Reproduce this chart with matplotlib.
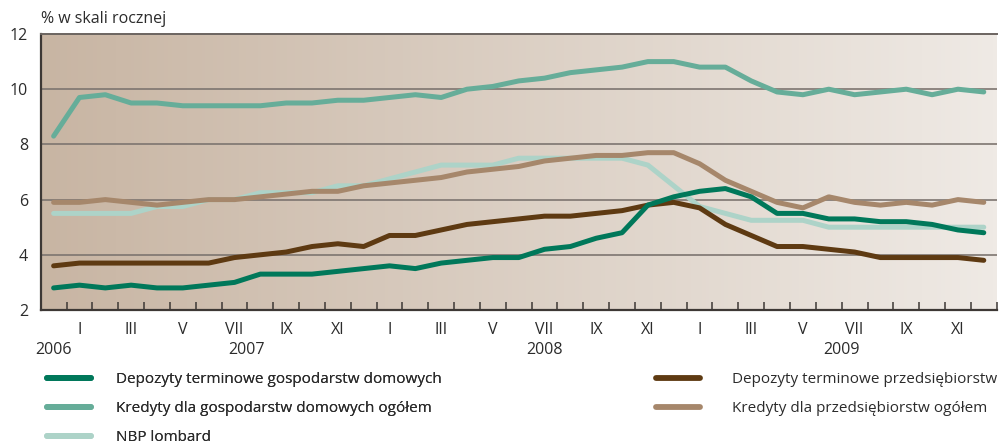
import numpy as np
import matplotlib
matplotlib.use("Agg")
import matplotlib.pyplot as plt
from matplotlib.colors import LinearSegmentedColormap
from matplotlib.lines import Line2D

# miesiace: XII 2006 - XII 2009
months = list(range(37))
month_labels = ["", "I", "", "III", "", "V", "", "VII", "", "IX", "", "XI"] * 3 + [""]
year_labels = ["2006", "2007", "2008", "2009"]
year_pos = [0, 7.45, 19.0, 30.5]

dep_hh = [2.8, 2.9, 2.8, 2.9, 2.8, 2.8, 2.9, 3.0, 3.3, 3.3, 3.3, 3.4, 3.5,
          3.6, 3.5, 3.7, 3.8, 3.9, 3.9, 4.2, 4.3, 4.6, 4.8, 5.8, 6.1,
          6.3, 6.4, 6.1, 5.5, 5.5, 5.3, 5.3, 5.2, 5.2, 5.1, 4.9, 4.8]
kred_hh = [8.3, 9.7, 9.8, 9.5, 9.5, 9.4, 9.4, 9.4, 9.4, 9.5, 9.5, 9.6, 9.6,
           9.7, 9.8, 9.7, 10.0, 10.1, 10.3, 10.4, 10.6, 10.7, 10.8, 11.0, 11.0,
           10.8, 10.8, 10.3, 9.9, 9.8, 10.0, 9.8, 9.9, 10.0, 9.8, 10.0, 9.9]
lombard = [5.5, 5.5, 5.5, 5.5, 5.75, 5.75, 6.0, 6.0, 6.25, 6.25, 6.25, 6.5, 6.5,
           6.75, 7.0, 7.25, 7.25, 7.25, 7.5, 7.5, 7.5, 7.5, 7.5, 7.25, 6.5,
           5.75, 5.5, 5.25, 5.25, 5.25, 5.0, 5.0, 5.0, 5.0, 5.0, 5.0, 5.0]
dep_firm = [3.6, 3.7, 3.7, 3.7, 3.7, 3.7, 3.7, 3.9, 4.0, 4.1, 4.3, 4.4, 4.3,
            4.7, 4.7, 4.9, 5.1, 5.2, 5.3, 5.4, 5.4, 5.5, 5.6, 5.8, 5.9,
            5.7, 5.1, 4.7, 4.3, 4.3, 4.2, 4.1, 3.9, 3.9, 3.9, 3.9, 3.8]
kred_firm = [5.9, 5.9, 6.0, 5.9, 5.8, 5.9, 6.0, 6.0, 6.1, 6.2, 6.3, 6.3, 6.5,
             6.6, 6.7, 6.8, 7.0, 7.1, 7.2, 7.4, 7.5, 7.6, 7.6, 7.7, 7.7,
             7.3, 6.7, 6.3, 5.9, 5.7, 6.1, 5.9, 5.8, 5.9, 5.8, 6.0, 5.9]

names = ["Depozyty terminowe gospodarstw domowych",
         "Kredyty dla gospodarstw domowych ogółem",
         "NBP lombard",
         "Depozyty terminowe przedsiębiorstw",
         "Kredyty dla przedsiębiorstw ogółem"]
colors = ["#00785a", "#66ad99", "#add3c8", "#5e3a12", "#a6876b"]

TXT = "#2b2b2b"
FONT = "Open Sans"
FS = 11


def main():
    plt.rcParams["font.family"] = [FONT, "DejaVu Sans"]
    fig = plt.figure(figsize=(9.99, 4.47), dpi=100)
    ax = fig.add_axes([40.7 / 999, 1 - 310 / 447, (996.7 - 40.7) / 999, 276 / 447])

    # tlo z gradientem
    cmap = LinearSegmentedColormap.from_list("bg", ["#c8b5a3", "#efeae5"])
    ax.imshow(np.linspace(0, 1, 256).reshape(1, -1), cmap=cmap, aspect="auto",
              extent=[0, 1, 0, 1], transform=ax.transAxes, zorder=0)

    for yv in [4, 6, 8, 10]:
        ax.axhline(yv, color="#7d7570", lw=1.2, zorder=1)

    series = [dep_hh, kred_hh, lombard, dep_firm, kred_firm]
    order = [2, 4, 1, 3, 0]
    for k in order:
        ax.plot(months, series[k], color=colors[k], lw=3.6, zorder=3 + order.index(k),
                solid_capstyle="round", solid_joinstyle="round")

    ax.set_xlim(-0.5, 36.5)
    ax.set_ylim(2, 12)
    ax.set_yticks([2, 4, 6, 8, 10, 12])
    ax.tick_params(axis="y", length=0, pad=9, labelsize=FS + 0.5, labelcolor=TXT)

    ax.set_xticks(months)
    ax.set_xticklabels(month_labels)
    ax.tick_params(axis="x", which="major", length=0, pad=9, labelsize=FS + 0.5, labelcolor=TXT)
    boundaries = [m + 0.5 for m in months]
    ax.set_xticks(boundaries, minor=True)
    ax.tick_params(axis="x", which="minor", direction="in", length=6, width=1.1, color="#3d3835")
    for t, b in zip(ax.xaxis.get_minor_ticks(), boundaries):
        if b in (0.5, 12.5, 24.5):
            t.tick1line.set_color("white")

    for yl, yp in zip(year_labels, year_pos):
        ax.text(yp, -0.145, yl, transform=ax.get_xaxis_transform(), ha="center",
                va="center", fontsize=FS + 0.5, color=TXT)

    ax.spines["right"].set_visible(False)
    ax.spines["top"].set_color("#6b6460")
    ax.spines["top"].set_linewidth(1.4)
    ax.spines["left"].set_color("#3d3835")
    ax.spines["left"].set_linewidth(1.6)
    ax.spines["bottom"].set_color("#3d3835")
    ax.spines["bottom"].set_linewidth(1.6)

    fig.text(41 / 999, 1 - 19 / 447, "% w skali rocznej", ha="left", va="center",
             fontsize=FS + 0.5, color=TXT)

    handles = [Line2D([], [], color=c, lw=4.2, solid_capstyle="round") for c in colors]
    opts = dict(loc="upper left", frameon=False, fontsize=FS, handlelength=2.9,
                labelspacing=0.92, labelcolor=TXT, borderaxespad=0)
    leg1 = fig.legend(handles[:3], names[:3], bbox_to_anchor=(41 / 999, 1 - 366 / 447),
                      handletextpad=1.6, **opts)
    fig.legend(handles[3:], names[3:], bbox_to_anchor=(650 / 999, 1 - 366 / 447),
               handletextpad=2.1, **opts)
    fig.add_artist(leg1)

    fig.savefig("out.png", dpi=100)


if __name__ == "__main__":
    main()
